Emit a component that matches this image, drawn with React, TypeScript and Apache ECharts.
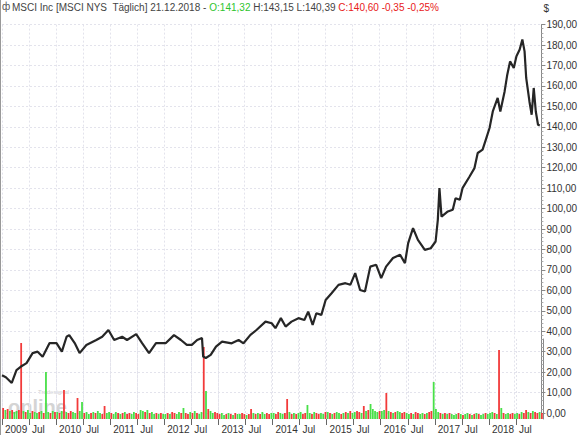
import React, { useEffect, useRef } from "react";
import * as echarts from "echarts";

// ---- Price (approximate close path) ----
const priceDates = [
  "2009-01-01", "2009-01-27", "2009-03-08", "2009-04-09", "2009-05-07", "2009-06-16", "2009-07-27", "2009-08-30",
  "2009-10-03", "2009-11-19", "2010-01-05", "2010-02-10", "2010-03-14", "2010-04-01", "2010-05-08", "2010-06-10",
  "2010-07-26", "2010-10-01", "2010-11-10", "2010-12-22", "2011-01-30", "2011-03-25", "2011-04-27", "2011-06-28",
  "2011-08-07", "2011-09-23", "2011-11-09", "2012-01-15", "2012-03-10", "2012-04-26", "2012-06-05", "2012-07-09",
  "2012-08-14", "2012-09-16", "2012-09-24", "2012-10-12", "2012-11-14", "2012-12-20", "2013-01-30", "2013-04-05",
  "2013-05-22", "2013-06-24", "2013-08-10", "2013-09-20", "2013-11-20", "2014-01-01", "2014-01-26", "2014-03-04",
  "2014-04-05", "2014-05-15", "2014-07-01", "2014-08-10", "2014-09-05", "2014-10-05", "2014-10-30", "2014-12-03",
  "2015-01-01", "2015-02-10", "2015-03-29", "2015-05-15", "2015-06-17", "2015-07-20", "2015-08-22", "2015-09-24",
  "2015-10-30", "2015-12-09", "2016-01-12", "2016-02-14", "2016-04-01", "2016-05-19", "2016-06-21", "2016-07-13",
  "2016-08-15", "2016-09-17", "2016-11-03", "2016-12-13", "2017-01-15", "2017-01-30", "2017-02-10", "2017-02-24",
  "2017-04-08", "2017-05-11", "2017-05-30", "2017-06-28", "2017-07-16", "2017-09-02", "2017-10-05", "2017-10-27",
  "2017-11-29", "2017-12-21", "2018-01-15", "2018-02-06", "2018-03-11", "2018-03-29", "2018-04-27", "2018-05-15",
  "2018-06-03", "2018-06-28", "2018-07-16", "2018-08-07", "2018-08-25", "2018-09-09", "2018-09-20", "2018-10-12",
  "2018-10-27", "2018-11-10", "2018-11-24", "2018-12-09", "2018-12-21",
];
const priceValues = [
  18.5, 17.5, 14.7, 21.0, 22.6, 24.4, 29.3, 30.0,
  27.5, 34.2, 34.2, 30.0, 37.3, 38.1, 34.2, 29.3,
  33.3, 35.7, 37.3, 40.6, 35.7, 37.3, 35.7, 38.6,
  34.2, 29.3, 34.2, 34.2, 38.1, 35.7, 33.3, 33.3,
  35.7, 36.7, 27.6, 26.9, 28.4, 32.5, 34.9, 34.1,
  35.7, 34.1, 38.2, 40.6, 44.7, 43.9, 41.5, 46.4,
  42.3, 44.7, 46.4, 45.5, 49.6, 43.1, 48.8, 48.0,
  55.3, 58.6, 62.7, 63.5, 62.7, 68.4, 60.2, 59.4,
  71.6, 72.5, 66.0, 71.6, 75.8, 77.4, 73.3, 83.1,
  90.4, 84.7, 79.8, 80.6, 83.9, 94.5, 110.0, 96.1,
  98.6, 99.4, 105.1, 104.3, 110.0, 115.7, 119.8, 127.2,
  128.8, 133.7, 139.4, 147.5, 154.1, 147.5, 157.3, 165.5,
  172.0, 168.8, 174.5, 177.8, 182.7, 176.9, 163.9, 152.4,
  145.9, 159.0, 147.5, 141.0, 140.6,
];

// ---- Volume, half-monthly from Jan 2009 (24 per year) ----
const volumeValues = [
  1.1, 0.9, 1.0, 0.8, 0.9, 0.7, 0.8, 0.9, 7.6, 0.8, 0.7, 0.9, 0.6, 0.8, 0.7, 0.6, 0.7, 0.8, 0.6, 4.7, 0.7, 0.6, 0.8, 0.7,
  0.7, 0.6, 0.8, 2.9, 0.7, 0.6, 0.8, 0.7, 0.6, 2.1, 0.8, 1.7, 0.6, 0.7, 0.5, 0.6, 0.7, 0.6, 0.8, 0.6, 0.5, 1.3, 0.6, 0.7,
  0.6, 0.5, 0.7, 0.6, 0.5, 0.6, 0.7, 0.5, 0.6, 0.5, 0.7, 0.6, 0.5, 0.9, 0.8, 0.7, 0.9, 0.6, 0.7, 0.5, 0.6, 0.5, 0.6, 0.5,
  0.5, 0.6, 0.5, 0.7, 0.6, 0.5, 0.7, 0.6, 1.1, 0.6, 0.5, 0.7, 0.6, 0.8, 0.6, 0.5, 0.7, 7.2, 2.8, 1.0, 0.8, 0.6, 0.7, 0.6,
  0.5, 0.6, 0.4, 0.5, 0.6, 0.5, 0.4, 0.6, 0.5, 0.5, 0.6, 0.5, 0.4, 0.5, 1.0, 0.6, 0.5, 0.6, 0.5, 0.7, 0.5, 0.6, 0.5, 0.6,
  0.6, 0.5, 0.7, 0.6, 0.5, 0.6, 2.0, 0.7, 0.5, 0.6, 0.5, 0.6, 0.7, 0.5, 0.6, 1.4, 0.6, 0.5, 0.7, 0.6, 0.5, 0.6, 0.5, 0.7,
  0.7, 0.6, 0.5, 0.6, 0.7, 0.6, 0.5, 0.6, 0.7, 0.6, 0.8, 0.6, 0.7, 0.8, 0.7, 0.6, 1.3, 0.8, 0.9, 1.5, 1.0, 0.8, 0.7, 0.8,
  0.8, 0.9, 2.6, 0.8, 0.7, 0.6, 0.7, 0.8, 0.7, 0.6, 0.7, 0.6, 0.5, 0.6, 0.5, 0.7, 0.6, 0.5, 0.6, 0.5, 0.6, 0.7, 0.8, 3.7,
  1.0, 0.7, 0.6, 0.5, 0.6, 0.5, 0.6, 0.5, 0.4, 0.5, 0.6, 0.5, 0.4, 0.5, 0.6, 0.5, 0.4, 0.5, 0.6, 0.5, 0.4, 0.5, 0.6, 0.5,
  0.6, 0.7, 0.6, 0.5, 6.9, 1.1, 0.6, 0.5, 0.6, 0.5, 0.6, 0.5, 0.6, 0.5, 0.7, 0.6, 0.9, 0.7, 0.6, 0.8, 0.7, 0.6, 0.7, 0.6,
];
// u = up day (green), d = down day (red)
const volumeDirections =
  "dududuudduduuduududuudud" +
  "udududduuduuduududuudduu" +
  "duudududduudduududuududu" +
  "ududduududdududuududuudd" +
  "duudududuudduddududuuddu" +
  "udduuddududuudduududduud" +
  "ududuudududuuddududuuuud" +
  "uudududuudduududduududdu" +
  "uudududuuududuudududuudu" +
  "uudududuudduududdududdud";

const xTicksStartYear = 2009;
const xTicksEndYear = 2019;

const titleParts = {
  name: "MSCI Inc [MSCI NYS  Täglich] 21.12.2018 - ",
  open: "O:141,32",
  highLow: " H:143,15 L:140,39 ",
  close: "C:140,60 -0,35 -0,25%",
};

function toYear(s: string): number {
  const [y, m, d] = s.split("-").map(Number);
  const start = Date.UTC(y, 0, 1);
  const end = Date.UTC(y + 1, 0, 1);
  return y + (Date.UTC(y, m - 1, d) - start) / (end - start);
}

const FONT = "Liberation Sans";

export default function App() {
  const ref = useRef<HTMLDivElement>(null);
  useEffect(() => {
    document.body.style.margin = "0";
    if (!ref.current) return;
    const chart = echarts.init(ref.current, undefined, { renderer: "svg" });

    const priceData = priceDates.map((d, i) => [toYear(d), priceValues[i]]);
    const volData = volumeValues.map((v, i) => ({
      value: [xTicksStartYear + (i + 0.5) / 24, v],
      itemStyle: { color: volumeDirections[i] === "u" ? "#48e048" : "#f23a3a" },
    }));

    const gridLine = { show: true, lineStyle: { color: "#e3e3ec", type: [2, 2] as any, width: 1 } };

    chart.setOption({
      animation: false,
      backgroundColor: "#ffffff",
      grid: [
        { left: 2, right: 37, top: 24.6, bottom: 22 },
        { left: 2, right: 37, top: 339, bottom: 16 },
      ],
      xAxis: [
        {
          type: "value",
          gridIndex: 0,
          min: xTicksStartYear,
          max: xTicksEndYear,
          interval: 0.5,
          axisLine: { show: false },
          axisTick: { show: false },
          axisLabel: { show: false },
          splitLine: gridLine,
        },
        {
          type: "value",
          gridIndex: 1,
          min: xTicksStartYear,
          max: xTicksEndYear,
          interval: 0.5,
          axisLine: { show: false },
          axisTick: { show: true, length: 6, lineStyle: { color: "#666" } },
          axisLabel: {
            show: true,
            showMaxLabel: false,
            align: "left",
            margin: 5,
            padding: [0, 0, 0, 3],
            color: "#333",
            fontSize: 10,
            fontFamily: FONT,
            formatter: (v: number) => (Number.isInteger(v) ? String(v) : "Jul"),
          },
          splitLine: gridLine,
        },
      ],
      yAxis: [
        {
          type: "value",
          gridIndex: 0,
          position: "right",
          min: 0,
          max: 190,
          interval: 10,
          name: "$",
          nameLocation: "end",
          nameGap: 11,
          nameTextStyle: { align: "left", color: "#333", fontSize: 10, fontFamily: FONT, padding: [0, 0, 0, 2] },
          axisLine: { show: true, lineStyle: { color: "#888" } },
          axisTick: { show: true, length: 4, lineStyle: { color: "#888" } },
          minorTick: { show: true, splitNumber: 5, length: 2, lineStyle: { color: "#aaa" } },
          axisLabel: {
            margin: 5,
            color: "#333",
            fontSize: 10,
            fontFamily: FONT,
            formatter: (v: number) => v.toFixed(2).replace(".", ","),
          },
          splitLine: gridLine,
        },
        {
          type: "value",
          gridIndex: 1,
          position: "right",
          min: 0,
          max: 8,
          axisLine: { show: true, lineStyle: { color: "#888" } },
          axisTick: { show: false },
          axisLabel: { show: false },
          splitLine: { show: false },
        },
      ],
      series: [
        {
          type: "bar",
          xAxisIndex: 1,
          yAxisIndex: 1,
          data: volData,
          barWidth: 1.8,
          z: 2,
        },
        {
          type: "line",
          xAxisIndex: 0,
          yAxisIndex: 0,
          data: priceData,
          showSymbol: false,
          symbol: "none",
          lineStyle: { color: "#262626", width: 2.2 },
          z: 3,
        },
      ],
      graphic: [
        {
          type: "line",
          shape: { x1: 0.5, y1: 0, x2: 0.5, y2: 435 },
          style: { stroke: "#999", lineWidth: 1 },
          z: 10,
        },
        {
          type: "text",
          x: 2,
          y: 1,
          style: { text: "ф", fill: "#555", font: `10px ${FONT}` },
          z: 10,
        },
        {
          type: "text",
          x: 12,
          y: 2,
          z: 10,
          style: {
            text:
              "{n|" + titleParts.name + "}{o|" + titleParts.open + "}{n|" + titleParts.highLow + "}{c|" + titleParts.close + "}",
            rich: {
              n: { fill: "#444", fontSize: 10, fontFamily: FONT },
              o: { fill: "#2ec42e", fontSize: 10, fontFamily: FONT },
              c: { fill: "#e82020", fontSize: 10, fontFamily: FONT },
            },
          },
        },
        {
          type: "text",
          x: 38,
          y: 389,
          z: 0,
          style: { text: "Tradesignal", fill: "#d0d0d0", font: `6px ${FONT}` },
        },
        {
          type: "text",
          x: 8,
          y: 397,
          z: 0,
          style: { text: "online", fill: "#d4d4d4", font: `bold 20px ${FONT}` },
        },
      ],
    });
    return () => chart.dispose();
  }, []);
  return <div ref={ref} style={{ width: 580, height: 435 }} />;
}
